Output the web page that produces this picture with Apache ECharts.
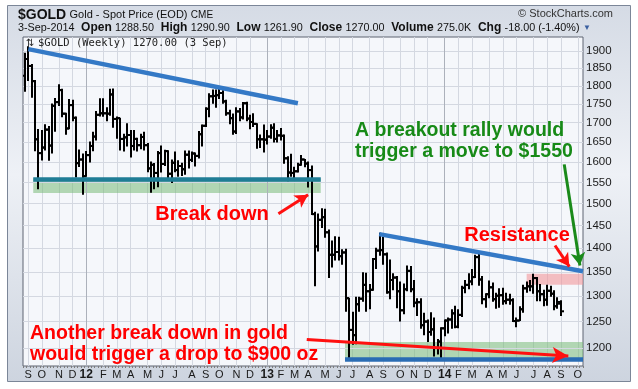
<!DOCTYPE html>
<html>
<head>
<meta charset="utf-8">
<script src="https://cdn.jsdelivr.net/npm/echarts@6/dist/echarts.min.js"></script>
<style>
html,body{margin:0;padding:0;background:#ffffff;}
#chart{width:638px;height:389px;}
</style>
</head>
<body>
<div id="chart"></div>
<script>
// ---------------- data (weekly bars, Aug 29 2011 .. Sep 1 2014) ----------------
const firstWeek = '2011-08-29';
const weekCount = 164; // 158 data weeks + empty weeks on the right edge

const opens = [
 1828,1876,1856,1813,1657,1622,1636,1682,1641,1745,1755,1788,1724,1685,1747,1713,1597,1606,
 1565,1617,1640,1664,1721,1725,1725,1724,1776,1710,1712,1658,1662,1668,1640,1658,1642,1663,1642,1584,1593,1573,1622,1595,1627,1571,1598,1580,1590,1582,1618,1605,1621,1615,1670,1692,1737,1771,1772,1774,1780,1757,1725,1712,1677,1730,1714,1752,1711,1702,1697,1657,1657,
 1656,1664,1687,1658,1667,1666,1609,1574,1573,1577,1593,1606,1596,1580,1476,1404,1463,1469,1435,1386,1386,1392,1383,1391,1296,1234,1224,1284,1295,1323,1310,1313,1377,1395,1396,1387,1308,1333,1338,1310,1272,1314,1352,1314,1287,1288,1243,1250,1230,1235,1200,1212,
 1237,1252,1254,1266,1240,1263,1317,1323,1330,1339,1381,1334,1294,1304,1318,1294,1301,1302,1290,1293,1292,1251,1252,1274,1316,1320,1320,1337,1310,1304,1293,1311,1305,1280,1288.5
];
const highs = [
 1893,1912,1860,1815,1682,1680,1695,1690,1750,1765,1803,1790,1725,1762,1760,1715,1630,1620,
 1626,1650,1675,1730,1764,1764,1740,1790,1791,1715,1712,1670,1697,1680,1680,1660,1670,1675,1646,1600,1596,1626,1640,1629,1628,1605,1625,1603,1597,1627,1627,1625,1622,1677,1694,1740,1778,1788,1788,1796,1786,1760,1733,1723,1740,1738,1754,1755,1720,1724,1697,1668,1694,
 1680,1695,1697,1680,1685,1668,1613,1619,1587,1597,1616,1606,1600,1590,1480,1476,1488,1487,1440,1416,1425,1424,1397,1398,1296,1268,1298,1298,1348,1347,1324,1378,1400,1433,1424,1390,1375,1346,1340,1329,1325,1362,1361,1332,1295,1295,1266,1253,1267,1257,1216,1238,
 1253,1257,1273,1280,1273,1320,1332,1346,1355,1385,1392,1340,1305,1331,1327,1306,1315,1316,1306,1304,1295,1257,1279,1322,1329,1332,1345,1338,1324,1312,1322,1320,1311,1297,1290.9
];
const lows = [
 1785,1815,1768,1628,1535,1605,1630,1604,1622,1678,1746,1716,1670,1684,1705,1563,1589,1522,
 1565,1600,1628,1655,1718,1717,1705,1720,1688,1660,1630,1627,1640,1612,1630,1627,1633,1630,1576,1527,1535,1540,1575,1591,1562,1550,1576,1565,1567,1570,1585,1601,1590,1610,1640,1690,1716,1752,1741,1765,1752,1720,1697,1670,1672,1705,1710,1705,1684,1690,1634,1636,1625,
 1645,1660,1650,1650,1655,1597,1554,1565,1562,1575,1592,1588,1539,1475,1321,1394,1446,1424,1338,1360,1375,1375,1366,1270,1180,1207,1208,1270,1290,1270,1275,1312,1357,1385,1366,1306,1295,1313,1277,1251,1265,1311,1309,1279,1262,1237,1225,1212,1224,1185,1189,1182,
 1223,1228,1237,1238,1238,1260,1307,1315,1323,1338,1322,1285,1278,1297,1290,1276,1278,1284,1285,1284,1250,1240,1252,1268,1308,1311,1306,1291,1291,1281,1282,1300,1273,1276,1261.9
];
const closes = [
 1876,1856,1813,1657,1622,1636,1682,1641,1745,1755,1788,1724,1685,1747,1713,1597,1606,1565,
 1617,1640,1664,1721,1725,1725,1724,1776,1710,1712,1658,1662,1668,1640,1658,1642,1663,1642,1584,1593,1573,1622,1595,1627,1571,1598,1580,1590,1582,1618,1605,1621,1615,1670,1692,1737,1771,1772,1774,1780,1757,1725,1712,1677,1730,1714,1752,1711,1702,1697,1657,1657,1656,
 1664,1687,1658,1667,1666,1609,1574,1573,1577,1593,1606,1596,1580,1476,1404,1463,1469,1435,1386,1386,1392,1383,1391,1296,1234,1224,1284,1295,1323,1310,1313,1377,1395,1396,1387,1308,1333,1338,1310,1272,1314,1352,1314,1287,1288,1243,1250,1230,1235,1200,1212,1237,
 1252,1254,1266,1240,1263,1317,1323,1330,1339,1381,1334,1294,1304,1318,1294,1301,1302,1290,1293,1292,1251,1252,1274,1316,1320,1320,1337,1310,1304,1293,1311,1305,1280,1285,1270
];

const yTicks = [1200,1250,1300,1350,1400,1450,1500,1550,1600,1650,1700,1750,1800,1850,1900];
const monthLetters = ['J','F','M','A','M','J','J','A','S','O','N','D'];

// annotation geometry in (week index, price)
const trendTop = [[1.05, 1905], [80.0, 1752]];
const trendRight = [[103.8, 1431], [163.5, 1351]];
const supportTop = [[2.5, 1558], [86.7, 1558]];
const supportBottom = [[93.8, 1180], [163.5, 1180]];
const bandTop = [[2.5, 1560], [86.7, 1525]];
const bandBottom = [[93.8, 1211], [163.5, 1180]];
const bandResist = [[147.0, 1346], [163.5, 1323]];
const arrowBreak = [[74.3, 1477], [83.0, 1521]];
const arrowResist = [[155.3, 1406], [159.5, 1361]];
const arrowGreen = [[158.0, 1594], [162.6, 1363]];
const arrowDrop = [[82.6, 1216], [159.2, 1185]];

// ---------------- build ----------------
const categories = [];
{
  let t = Date.UTC(2011, 7, 29);
  for (let i = 0; i < weekCount; i++) {
    categories.push(new Date(t).toISOString().slice(0, 10));
    t += 7 * 86400000;
  }
}
const asDate = s => new Date(s + 'T00:00:00Z');
const isMonthStart = (idx, v) => asDate(v).getUTCDate() <= 7;
const yearStarts = categories.filter(v => asDate(v).getUTCMonth() === 0 && asDate(v).getUTCDate() <= 7);

const ohlc = opens.map((o, i) => [i, o, highs[i], lows[i], closes[i]]);

function drawBar(params, api) {
  const i = api.value(0);
  const pH = api.coord([i, api.value(2)]);
  const pL = api.coord([i, api.value(3)]);
  const pO = api.coord([i, api.value(1)]);
  const pC = api.coord([i, api.value(4)]);
  const x = Math.round(pH[0]);
  const st = { stroke: '#000', lineWidth: 2 };
  return {
    type: 'group',
    children: [
      { type: 'line', shape: { x1: x, y1: pH[1] - 0.5, x2: x, y2: pL[1] + 0.5 }, style: st },
      { type: 'line', shape: { x1: x - 3, y1: pO[1], x2: x, y2: pO[1] }, style: st },
      { type: 'line', shape: { x1: x, y1: pC[1], x2: x + 3, y2: pC[1] }, style: st }
    ]
  };
}

const seg = (pts, color, width, arrow, size) => [
  { coord: pts[0], symbol: 'none', lineStyle: { color: color, width: width, type: 'solid', opacity: 1 } },
  { coord: pts[1], symbol: arrow ? 'arrow' : 'none', symbolSize: size || 10 }
];
const area = (pts, color) => [
  { coord: pts[0], itemStyle: { color: color } },
  { coord: pts[1] }
];

const FONT = '"Liberation Sans", Arial, sans-serif';
const chart = echarts.init(document.getElementById('chart'), null, { renderer: 'canvas' });

const option = {
  animation: false,
  backgroundColor: '#ffffff',
  grid: {
    left: 23, right: 55, top: 37, bottom: 23,
    show: true, backgroundColor: '#f5f7fb', borderColor: '#5e6573', borderWidth: 1
  },
  xAxis: [
    {
      type: 'category', data: categories, boundaryGap: true,
      axisLine: { show: false },
      axisTick: { show: true, interval: 0, length: 2, lineStyle: { color: '#7d7d7d' } },
      axisLabel: {
        interval: isMonthStart, margin: 3, color: '#1a1a1a', fontSize: 11, fontFamily: FONT,
        formatter: v => {
          const d = asDate(v);
          return d.getUTCMonth() === 0 ? '{yr|' + String(d.getUTCFullYear()).slice(2) + '}' : monthLetters[d.getUTCMonth()];
        },
        rich: { yr: { fontWeight: 'bold', fontSize: 12, color: '#1a1a1a', fontFamily: FONT } }
      },
      splitLine: { show: true, interval: isMonthStart, alignWithLabel: true, lineStyle: { color: '#d4d8e1', width: 1 } }
    },
    { type: 'value', min: -0.5, max: weekCount - 0.5, show: false }
  ],
  yAxis: [{
    type: 'log', min: 1167, max: 1941, position: 'right',
    axisLine: { show: false }, axisTick: { show: false }, axisLabel: { show: false }, splitLine: { show: false }
  }],
  series: [
    {
      name: 'grid', type: 'line', xAxisIndex: 1, data: [],
      markLine: {
        silent: true, z: 1, symbol: 'none', animation: false,
        lineStyle: { color: '#d4d8e1', width: 1, type: 'solid' },
        label: { position: 'end', distance: 3, formatter: '{c}', color: '#1a1a1a', fontSize: 11.5, fontFamily: FONT },
        emphasis: { disabled: true },
        data: yTicks.map(v => ({ yAxis: v }))
      }
    },
    {
      name: 'bands', type: 'line', xAxisIndex: 1, data: [],
      markArea: {
        silent: true, z: 1,
        data: [
          area(bandTop, 'rgba(120,188,120,0.55)'),
          area(bandBottom, 'rgba(120,188,120,0.55)'),
          area(bandResist, 'rgba(242,150,155,0.6)')
        ]
      }
    },
    {
      name: '$GOLD', type: 'custom', xAxisIndex: 0, yAxisIndex: 0, z: 3, clip: true,
      renderItem: drawBar, encode: { x: 0, y: [1, 2, 3, 4] }, data: ohlc,
      markLine: {
        silent: true, z: 1, symbol: 'none', label: { show: false },
        lineStyle: { color: '#acb1bb', width: 1, type: 'solid' },
        emphasis: { disabled: true },
        data: yearStarts.map(d => ({ xAxis: d }))
      }
    },
    {
      name: 'notes', type: 'line', xAxisIndex: 1, data: [],
      markLine: {
        silent: true, z: 6, label: { show: false }, emphasis: { disabled: true },
        data: [
          seg(trendTop, '#3479c6', 4.5),
          seg(trendRight, '#3479c6', 4.5),
          seg(supportTop, '#1f7d96', 4.5),
          seg(supportBottom, '#2a6db4', 4.5),
          seg(arrowBreak, '#ff1010', 3, true, [11, 13]),
          seg(arrowResist, '#ff1010', 3, true, [11, 13]),
          seg(arrowGreen, '#1a8a1a', 3, true, [11, 13]),
          seg(arrowDrop, '#ff1010', 3, true, [12, 16])
        ]
      }
    }
  ],
  graphic: [
    {
      type: 'rect', z: -100, silent: true,
      shape: { x: 7.5, y: 5.5, width: 623, height: 376 },
      style: {
        fill: new echarts.graphic.LinearGradient(0, 0, 0, 1, [
          { offset: 0, color: '#d5dbe5' }, { offset: 0.45, color: '#eef1f6' }, { offset: 1, color: '#cdd4df' }
        ]),
        stroke: '#7b8698', lineWidth: 1
      }
    },
    {
      type: 'text', z: 50, silent: true, x: 18, y: 15,
      style: {
        text: '{b|$GOLD} {n|Gold - Spot Price (EOD)} {s|CME}',
        verticalAlign: 'middle', textVerticalAlign: 'middle',
        rich: {
          b: { fontSize: 14, fontWeight: 'bold', fontFamily: FONT, fill: '#111' },
          n: { fontSize: 11, fontFamily: FONT, fill: '#111' },
          s: { fontSize: 10, fontFamily: FONT, fill: '#111' }
        }
      }
    },
    {
      type: 'text', z: 50, silent: true, x: 613, y: 14,
      style: { text: '\u00A9 StockCharts.com', fontSize: 11, fontFamily: FONT, fill: '#333',
        align: 'right', textAlign: 'right', verticalAlign: 'middle', textVerticalAlign: 'middle' }
    },
    {
      type: 'text', z: 50, silent: true, x: 18, y: 28,
      style: {
        text: '{v|3-Sep-2014}  {b|Open} {v|1288.50}  {b|High} {v|1290.90}  {b|Low} {v|1261.90}  {b|Close} {v|1270.00}  {b|Volume} {v|275.0K}  {b|Chg} {v|-18.00 (-1.40%)} {t|\u25BC}',
        verticalAlign: 'middle', textVerticalAlign: 'middle',
        rich: {
          v: { fontSize: 10.8, fontFamily: FONT, fill: '#111' },
          b: { fontSize: 12, fontWeight: 'bold', fontFamily: FONT, fill: '#111' },
          t: { fontSize: 8, fontFamily: FONT, fill: '#3a5fa0' }
        }
      }
    },
    {
      type: 'text', z: 50, silent: true, x: 26, y: 43,
      style: { text: '\u21C5', fontSize: 10, fontFamily: 'DejaVu Sans', fill: '#222',
        verticalAlign: 'middle', textVerticalAlign: 'middle' }
    },
    {
      type: 'text', z: 50, silent: true, x: 38, y: 43,
      style: { text: '$GOLD (Weekly) 1270.00 (3 Sep)', fontSize: 10.5, fontFamily: '"DejaVu Sans Mono", monospace', fill: '#222',
        verticalAlign: 'middle', textVerticalAlign: 'middle' }
    },
    {
      type: 'text', z: 60, silent: true, x: 212, y: 214,
      style: { text: 'Break down', fontSize: 20, fontWeight: 'bold', fontFamily: FONT, fill: '#ff0000',
        align: 'center', textAlign: 'center', verticalAlign: 'middle', textVerticalAlign: 'middle' }
    },
    {
      type: 'text', z: 60, silent: true, x: 517, y: 235,
      style: { text: 'Resistance', fontSize: 20, fontWeight: 'bold', fontFamily: FONT, fill: '#ff0000',
        align: 'center', textAlign: 'center', verticalAlign: 'middle', textVerticalAlign: 'middle' }
    },
    {
      type: 'text', z: 60, silent: true, x: 30, y: 334,
      style: { text: 'Another break down in gold', fontSize: 19.5, fontWeight: 'bold', fontFamily: FONT, fill: '#ff0000',
        verticalAlign: 'middle', textVerticalAlign: 'middle' }
    },
    {
      type: 'text', z: 60, silent: true, x: 30, y: 355,
      style: { text: 'would trigger a drop to $900 oz', fontSize: 19.5, fontWeight: 'bold', fontFamily: FONT, fill: '#ff0000',
        verticalAlign: 'middle', textVerticalAlign: 'middle' }
    },
    {
      type: 'text', z: 60, silent: true, x: 355, y: 131,
      style: { text: 'A breakout rally would', fontSize: 19.5, fontWeight: 'bold', fontFamily: FONT, fill: '#178a17',
        verticalAlign: 'middle', textVerticalAlign: 'middle' }
    },
    {
      type: 'text', z: 60, silent: true, x: 355, y: 152,
      style: { text: 'trigger a move to $1550', fontSize: 19.5, fontWeight: 'bold', fontFamily: FONT, fill: '#178a17',
        verticalAlign: 'middle', textVerticalAlign: 'middle' }
    }
  ]
};
chart.setOption(option);
</script>
</body>
</html>
